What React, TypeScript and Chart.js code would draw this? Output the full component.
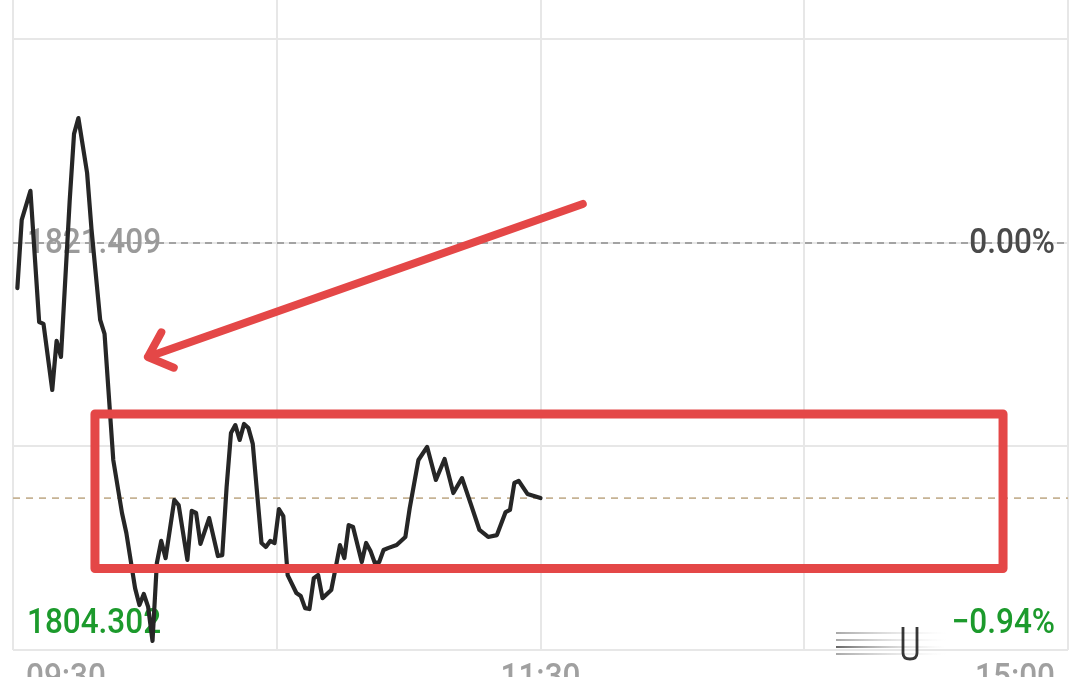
import React, { useEffect, useRef } from "react";
import { Chart, registerables } from "chart.js";

Chart.register(...registerables);

// ---- data ----
const preClose = 1821.409;
const lowPrice = 1804.302;
const zeroPctLabel = "0.00%";
const lowPctLabel = "\u22120.94%";
const timeLabels = ["09:30", "11:30", "15:00"];
const timeLabelMinutes = [-1, 120, 241];
const gridMinutes = [-1, 59.5, 120, 180.5, 241];
const gridStep = 8.75;

const minutes = [
  0, 1, 3, 5, 6, 8, 9, 10, 12, 13,
  14, 16, 17, 19, 20, 22, 24, 25, 27, 28,
  29, 30, 31, 32, 33, 34, 36, 37, 39, 40,
  41, 42, 44, 46, 47, 48, 49, 50, 51, 52,
  53, 54, 56, 57, 58, 59, 60, 61, 62, 64,
  65, 66, 67, 68, 69, 70, 72, 73, 74, 75,
  76, 77, 79, 80, 81, 82, 83, 84, 85, 87,
  89, 90, 92, 94, 96, 98, 100, 102, 104, 106,
  108, 110, 112, 113, 114, 115, 117, 120,
];

const prices = [
  1819.47, 1822.4, 1823.65, 1818.01, 1817.93, 1815.09, 1817.2, 1816.51, 1823.22, 1826.1,
  1826.78, 1824.42, 1822.01, 1818.1, 1817.5, 1812.08, 1809.8, 1808.94, 1806.57, 1805.84,
  1806.32, 1805.76, 1804.302, 1807.65, 1808.6, 1807.86, 1810.36, 1810.14, 1807.78, 1809.89,
  1809.8, 1808.47, 1809.58, 1807.95, 1807.99, 1810.92, 1813.24, 1813.58, 1812.94, 1813.63,
  1813.45, 1812.77, 1808.51, 1808.34, 1808.6, 1808.51, 1809.97, 1809.67, 1807.13, 1806.36,
  1806.23, 1805.71, 1805.67, 1807.0, 1807.13, 1806.14, 1806.49, 1807.43, 1808.42, 1807.86,
  1809.28, 1809.2, 1807.69, 1808.51, 1808.17, 1807.65, 1807.69, 1808.21, 1808.29, 1808.42,
  1808.77, 1810.01, 1812.08, 1812.64, 1811.22, 1812.12, 1810.66, 1811.3, 1810.19, 1809.07,
  1808.77, 1808.85, 1809.84, 1809.93, 1811.09, 1811.18, 1810.62, 1810.44,
];

// red hand-drawn annotation, in data units (minute, price)
const boxMinutes = [17.8, 226.1];
const boxPrices = [1814.06, 1807.41];
const arrowTail = [129.7, 1823.09];
const arrowTip = [29.95, 1816.51];

const yMin = preClose - 2 * gridStep;
const yMax = preClose + gridStep * (243 / 203.5);
const yGrid = [preClose + gridStep, preClose, preClose - gridStep, preClose - 2 * gridStep];

function drawText(
  ctx: CanvasRenderingContext2D,
  s: string,
  x: number,
  y: number,
  color: string,
  align: "left" | "right" | "center"
) {
  const sx = 0.9;
  ctx.save();
  ctx.font = "500 35px Roboto";
  ctx.fillStyle = color;
  ctx.textAlign = "left";
  ctx.textBaseline = "alphabetic";
  const w = ctx.measureText(s).width * sx;
  const left = align === "left" ? x : align === "right" ? x - w : x - w / 2;
  ctx.translate(left, y);
  ctx.scale(sx, 1);
  ctx.fillText(s, 0, 0);
  ctx.restore();
}

const overlay = {
  id: "overlay",
  beforeDatasetsDraw(chart: any) {
    const { ctx, chartArea: a, scales } = chart;
    const x = scales.x;
    const y = scales.y;
    ctx.save();
    // pre-close dashed line
    const yp = y.getPixelForValue(preClose);
    ctx.strokeStyle = "#a3a3a3";
    ctx.lineWidth = 2;
    ctx.setLineDash([7, 5]);
    ctx.beginPath();
    ctx.moveTo(a.left, yp);
    ctx.lineTo(a.right, yp);
    ctx.stroke();
    // last price dashed line
    const yl = y.getPixelForValue(prices[prices.length - 1]);
    ctx.strokeStyle = "#c6b394";
    ctx.lineWidth = 1.6;
    ctx.setLineDash([7, 6]);
    ctx.beginPath();
    ctx.moveTo(a.left, yl);
    ctx.lineTo(a.right, yl);
    ctx.stroke();
    ctx.setLineDash([]);
    ctx.restore();

    drawText(ctx, preClose.toFixed(3), a.left + 14, yp + 10, "#9a9a9a", "left");
    drawText(ctx, zeroPctLabel, a.right - 13, yp + 10, "#4a4a4a", "right");
    drawText(ctx, lowPrice.toFixed(3), a.left + 14, a.bottom - 17, "#1c9a2c", "left");
    drawText(ctx, lowPctLabel, a.right - 13, a.bottom - 17, "#1c9a2c", "right");

    // time labels (cut off at the bottom edge)
    timeLabels.forEach((t, i) => {
      const px = x.getPixelForValue(timeLabelMinutes[i]);
      const align = i === 0 ? "left" : i === timeLabels.length - 1 ? "right" : "center";
      const ox = i === 0 ? 13 : i === timeLabels.length - 1 ? -13 : 0;
      drawText(ctx, t, px + ox, a.bottom + 38, "#a0a0a0", align as any);
    });
  },
  afterDatasetsDraw(chart: any) {
    const { ctx, chartArea: a, scales } = chart;
    const x = scales.x;
    const y = scales.y;
    ctx.save();
    ctx.strokeStyle = "#e44747";
    ctx.lineJoin = "round";
    ctx.lineCap = "round";
    // box
    const bx0 = x.getPixelForValue(boxMinutes[0]);
    const bx1 = x.getPixelForValue(boxMinutes[1]);
    const by0 = y.getPixelForValue(boxPrices[0]);
    const by1 = y.getPixelForValue(boxPrices[1]);
    ctx.lineWidth = 9;
    ctx.beginPath();
    ctx.rect(bx0, by0, bx1 - bx0, by1 - by0);
    ctx.stroke();
    // arrow
    const tx = x.getPixelForValue(arrowTail[0]);
    const ty = y.getPixelForValue(arrowTail[1]);
    const hx = x.getPixelForValue(arrowTip[0]);
    const hy = y.getPixelForValue(arrowTip[1]);
    ctx.lineWidth = 8;
    ctx.beginPath();
    ctx.moveTo(tx, ty);
    ctx.lineTo(hx, hy);
    const ang = Math.atan2(ty - hy, tx - hx);
    const len = 28;
    const spread = (42 * Math.PI) / 180;
    ctx.moveTo(hx + len * Math.cos(ang - spread), hy + len * Math.sin(ang - spread));
    ctx.lineTo(hx, hy);
    ctx.lineTo(hx + len * Math.cos(ang + spread), hy + len * Math.sin(ang + spread));
    ctx.stroke();

    // small blurred overlay glyph near the bottom right
    const gx = a.right - 232;
    const gy = a.bottom - 17;
    [0, 7, 14, 21].forEach((dy, i) => {
      const g = ctx.createLinearGradient(gx, 0, gx + 110, 0);
      g.addColorStop(0, i === 2 ? "rgba(30,30,30,0.9)" : "rgba(90,90,90,0.7)");
      g.addColorStop(1, "rgba(200,200,200,0)");
      ctx.strokeStyle = g;
      ctx.lineWidth = 1.4;
      ctx.lineCap = "butt";
      ctx.beginPath();
      ctx.moveTo(gx, gy + dy);
      ctx.lineTo(gx + 110, gy + dy);
      ctx.stroke();
    });
    ctx.strokeStyle = "rgba(20,20,20,0.85)";
    ctx.lineWidth = 2.8;
    ctx.beginPath();
    ctx.moveTo(gx + 67, gy - 6);
    ctx.lineTo(gx + 67, gy + 20);
    ctx.quadraticCurveTo(gx + 67, gy + 26, gx + 74, gy + 26);
    ctx.quadraticCurveTo(gx + 81, gy + 26, gx + 81, gy + 20);
    ctx.lineTo(gx + 81, gy - 6);
    ctx.stroke();
    ctx.restore();
  },
};

export default function App() {
  const ref = useRef<HTMLCanvasElement | null>(null);
  useEffect(() => {
    if (!ref.current) return;
    const chart = new Chart(ref.current, {
      type: "line",
      data: {
        datasets: [
          {
            data: minutes.map((m, i) => ({ x: m, y: prices[i] })),
            borderColor: "#262626",
            borderWidth: 4.2,
            pointRadius: 0,
            tension: 0,
            borderJoinStyle: "round",
            borderCapStyle: "round",
            fill: false,
          } as any,
        ],
      },
      options: {
        responsive: false,
        animation: false,
        events: [],
        layout: { padding: { left: 13, right: 12, top: 0, bottom: 27 } },
        plugins: { legend: { display: false }, tooltip: { enabled: false } },
        scales: {
          x: {
            type: "linear",
            min: -1,
            max: 241,
            afterBuildTicks: (s: any) => {
              s.ticks = gridMinutes.map((v) => ({ value: v }));
            },
            ticks: { display: false },
            grid: { color: "#e7e7e7", lineWidth: 2, drawTicks: false },
            border: { display: false },
          },
          y: {
            type: "linear",
            min: yMin,
            max: yMax,
            afterBuildTicks: (s: any) => {
              s.ticks = yGrid.map((v) => ({ value: v }));
            },
            ticks: { display: false },
            grid: { color: "#e7e7e7", lineWidth: 2, drawTicks: false },
            border: { display: false },
          },
        },
      } as any,
      plugins: [overlay],
    });
    return () => chart.destroy();
  }, []);
  return (
    <div style={{ position: "fixed", left: 0, top: 0, width: 1080, height: 677, background: "#fff" }}>
      <canvas ref={ref} width={1080} height={677} style={{ display: "block" }} />
    </div>
  );
}
